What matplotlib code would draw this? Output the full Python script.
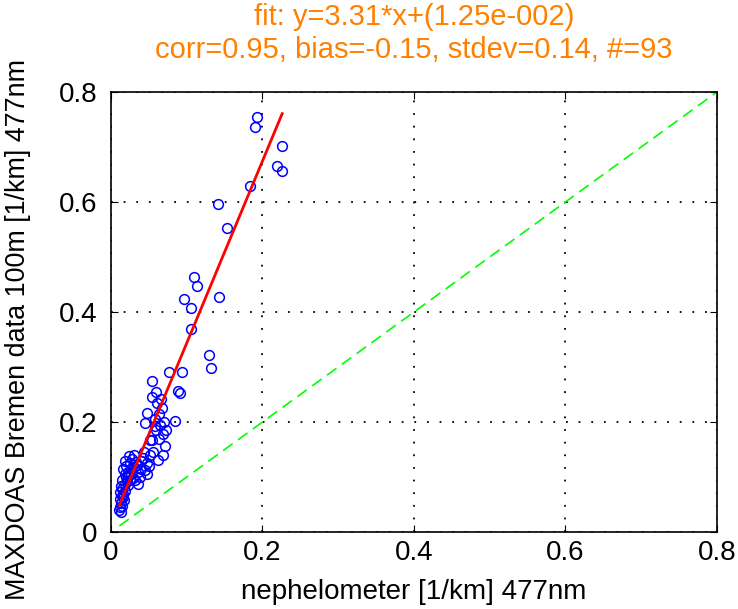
import matplotlib.pyplot as plt
import numpy as np

plt.rcParams['font.family'] = ['Liberation Sans', 'DejaVu Sans']

# nephelometer extinction vs MAXDOAS 100m extinction, 477nm
neph = [0.193, 0.190, 0.226, 0.219, 0.226, 0.184, 0.141, 0.153, 0.109, 0.114,
        0.097, 0.105, 0.143, 0.105, 0.129, 0.132, 0.077, 0.094, 0.085, 0.089,
        0.091,
        0.013, 0.012, 0.013, 0.012, 0.014, 0.012, 0.015, 0.013, 0.017, 0.016,
        0.018, 0.014, 0.020, 0.022, 0.025,
        0.018, 0.016, 0.020, 0.022, 0.025, 0.028, 0.030, 0.024, 0.033, 0.035,
        0.027, 0.019,
        0.032, 0.038, 0.040, 0.045, 0.047, 0.042, 0.050, 0.036, 0.044,
        0.056, 0.062, 0.069, 0.071, 0.054, 0.069, 0.060, 0.065, 0.058, 0.063,
        0.067, 0.061, 0.066, 0.058, 0.070, 0.064, 0.073, 0.047, 0.045, 0.051,
        0.059, 0.054, 0.054,
        0.011, 0.015, 0.016, 0.019, 0.021, 0.023, 0.026, 0.029, 0.031, 0.034,
        0.039, 0.048, 0.052]
maxdoas = [0.754, 0.737, 0.701, 0.665, 0.657, 0.629, 0.596, 0.553, 0.464, 0.447,
           0.424, 0.407, 0.428, 0.369, 0.321, 0.299, 0.290, 0.290, 0.202, 0.257,
           0.252,
           0.037, 0.045, 0.052, 0.060, 0.066, 0.072, 0.078, 0.083, 0.058, 0.070,
           0.088, 0.094, 0.100, 0.085, 0.095,
           0.105, 0.115, 0.120, 0.110, 0.125, 0.132, 0.118, 0.138, 0.128, 0.110,
           0.105, 0.130,
           0.095, 0.100, 0.115, 0.113, 0.125, 0.135, 0.120, 0.088, 0.145,
           0.146, 0.131, 0.140, 0.156, 0.167, 0.179, 0.185, 0.195, 0.205, 0.215,
           0.225, 0.235, 0.242, 0.192, 0.200, 0.170, 0.185, 0.216, 0.198, 0.167,
           0.255, 0.246, 0.275,
           0.040, 0.048, 0.063, 0.075, 0.092, 0.102, 0.115, 0.098, 0.140, 0.122,
           0.130, 0.105, 0.140]

slope = 3.31
offset = 1.25e-2
title_lines = ['fit: y=3.31*x+(1.25e-002)',
               'corr=0.95, bias=-0.15, stdev=0.14, #=93']
ticks = [0, 0.2, 0.4, 0.6, 0.8]
tick_labels = ['0', '0.2', '0.4', '0.6', '0.8']

fig = plt.figure(figsize=(7.38, 6.09), dpi=100)
ax = fig.add_axes([0.1504, 0.1264, 0.8211, 0.7226])

ax.plot(neph, maxdoas, 'o', markerfacecolor='none', markeredgecolor='#0000FF',
        markersize=7, markeredgewidth=1.1, zorder=3)

xfit = np.array([min(neph), max(neph)])
ax.plot(xfit, slope * xfit + offset, color='#FF0000', linewidth=2, zorder=4)

ax.plot([min(neph), 0.8], [min(neph), 0.8], color='#00FF00', linewidth=1.2,
        dashes=(7, 4), zorder=2)

ax.set_xlim(0, 0.8)
ax.set_ylim(0, 0.8)
ax.set_xticks(ticks)
ax.set_xticklabels(tick_labels)
ax.set_yticks(ticks)
ax.set_yticklabels(tick_labels)
ax.tick_params(direction='in', top=True, right=True, labelsize=20, length=5)
ax.tick_params(axis='x', pad=6)
ax.tick_params(axis='y', pad=10)
ax.grid(True, color='black', linestyle=(0, (1, 6)), linewidth=1.3)
for s in ax.spines.values():
    s.set_linewidth(1.2)

ax.set_xlabel('nephelometer [1/km] 477nm', fontsize=20, labelpad=9)
ax.set_ylabel('MAXDOAS Bremen data 100m [1/km] 477nm', fontsize=19.4)
ax.yaxis.set_label_coords(-0.132, 0.46)

# two-line orange header with the fit statistics
cx = 0.1504 + 0.8211 / 2
fig.text(cx, 1 - 17 / 609, title_lines[0], color='#FF8000', fontsize=21,
         ha='center', va='center')
fig.text(cx, 1 - 50 / 609, title_lines[1], color='#FF8000', fontsize=21,
         ha='center', va='center')

fig.savefig('out.png', dpi=100)
